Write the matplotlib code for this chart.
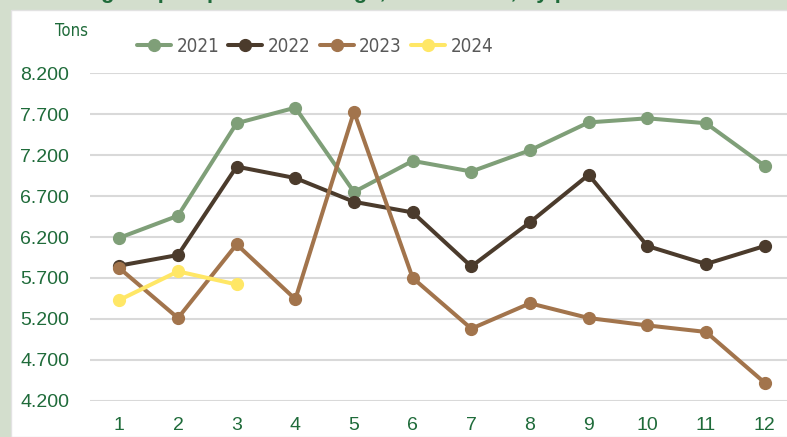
#!/usr/bin/env python3
"""Monthly tonnage by year, 2021-2024 (line chart with outer green frame)."""

import matplotlib
matplotlib.use("Agg")
import matplotlib.pyplot as plt
import matplotlib.patches as mpatches
from matplotlib.ticker import FuncFormatter

months = list(range(1, 13))
tons_2021 = [6190, 6460, 7590, 7780, 6750, 7130, 7000, 7260, 7600, 7650, 7590, 7070]
tons_2022 = [5850, 5980, 7060, 6920, 6630, 6500, 5840, 6380, 6960, 6090, 5870, 6090]
tons_2023 = [5820, 5210, 6110, 5440, 7730, 5700, 5080, 5390, 5210, 5120, 5040, 4420]
tons_2024 = [5430, 5780, 5620]
yticks = [4200, 4700, 5200, 5700, 6200, 6700, 7200, 7700, 8200]

series = [
    ("2021", tons_2021, "#7f9f78"),
    ("2022", tons_2022, "#4b3b2c"),
    ("2023", tons_2023, "#a2744c"),
    ("2024", tons_2024, "#ffe766"),
]

TEXT_GREEN = "#1f6b3a"
W, H = 787, 437

plt.rcParams["font.family"] = ["Liberation Sans", "DejaVu Sans"]

fig = plt.figure(figsize=(W / 100, H / 100), dpi=100, facecolor="#d3decd")
# white chart panel inside the green frame
fig.patches.append(mpatches.Rectangle(
    (11 / W, 0), 1, (H - 10) / H, transform=fig.transFigure,
    facecolor="white", edgecolor="#e2e2e2", linewidth=1, zorder=-5))

# title sits above the crop; only its descenders peek through
fig.text(40 / W, (H + 2) / H, "Average export price of tonnage, 2021 - 2024, by period",
         fontsize=16, fontweight="bold", color=TEXT_GREEN, va="baseline", ha="left")

ax = fig.add_axes([90 / W, (H - 400.7) / H, (794 - 90) / W, (400.7 - 73.3) / H])
ax.set_facecolor("none")

for label, vals, color in series:
    ax.plot(months[:len(vals)], vals, color=color, lw=2.9, marker="o", ms=8.5,
            solid_capstyle="round", label=label, zorder=3)

ax.set_xlim(0.5, 12.5)
ax.set_ylim(4200, 8200)
ax.set_xticks(months)
ax.set_yticks(yticks)
ax.yaxis.set_major_formatter(FuncFormatter(lambda v, _: f"{int(v):,}".replace(",", ".")))
ax.grid(axis="y", color="#d9d9d9", lw=1.5, zorder=0)
ax.tick_params(axis="both", length=0, labelsize=14, labelcolor=TEXT_GREEN)
ax.tick_params(axis="y", pad=15)
ax.tick_params(axis="x", pad=12)
for s in ax.spines.values():
    s.set_visible(False)

fig.text(55 / W, (H - 31) / H, "Tons", fontsize=12, color=TEXT_GREEN,
         va="center", ha="left", family="DejaVu Sans", fontstretch="condensed")

leg = fig.legend(loc="center left", bbox_to_anchor=(120 / W, (H - 46) / H), ncol=4,
                 frameon=False, handlelength=1.8, columnspacing=0.5, handletextpad=0.3,
                 prop={"family": "DejaVu Sans", "stretch": "condensed", "size": 13.5})
for t in leg.get_texts():
    t.set_color("#595959")

fig.savefig("out.png", dpi=100, facecolor=fig.get_facecolor())
